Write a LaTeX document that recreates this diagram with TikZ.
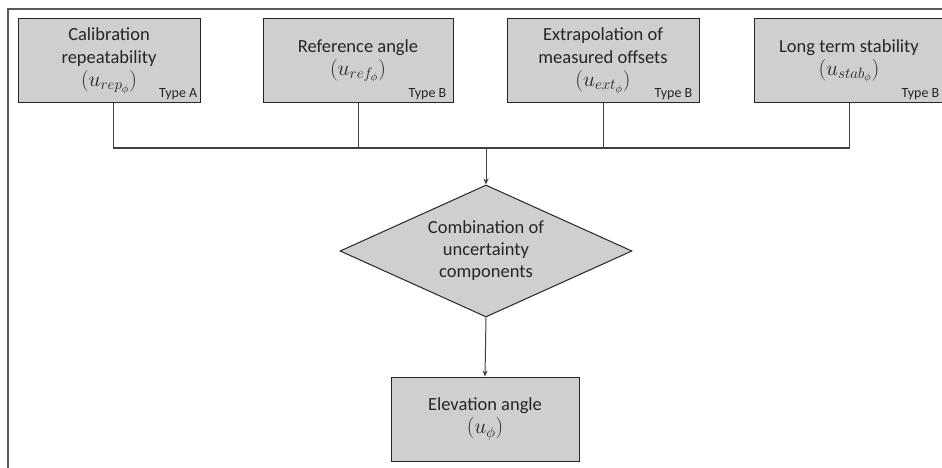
\RequirePackage{fix-cm}
\documentclass[tikz,border=0pt]{standalone}
\usepackage{fontspec}
\setmainfont{Carlito}
\usetikzlibrary{shapes.geometric,arrows.meta}
\definecolor{boxfill}{HTML}{D0CECE}
\definecolor{boxline}{HTML}{262626}
\definecolor{connline}{HTML}{404040}
\definecolor{framecol}{HTML}{595959}
\newcommand\umathlbl[1]{{\fontsize{21.5}{23}\selectfont$\boldsymbol{}#1$}}
\tikzset{
  stepbox/.style={draw=boxline, line width=1pt, fill=boxfill, minimum height=84pt,
    inner sep=0pt, align=center, text=black!85, font=\fontsize{18.5}{23}\selectfont},
  decide/.style={diamond, draw=boxline, line width=1pt, fill=boxfill, aspect=2.21,
    minimum width=292pt, minimum height=132pt, inner sep=0pt, align=center,
    text=black!85, font=\fontsize{18.5}{22}\selectfont},
  typelbl/.style={anchor=base east, inner sep=0pt, text=black!85, font=\fontsize{14}{16}\selectfont},
  conn/.style={draw=connline, line width=1pt},
  arr/.style={conn, -{Stealth[length=6pt,width=5pt]}},
  frameline/.style={draw=framecol, line width=1.3pt}
}
\renewcommand\umathlbl[1]{{\fontsize{21.5}{23}\selectfont$#1$}}
\begin{document}
\begin{tikzpicture}[x=1pt,y=-1pt]
\clip (0,0) rectangle (942,468);
\fill[white] (0,0) rectangle (942,468);
\draw[frameline] (8,480) -- (8,9) -- (960,9);

\node[stepbox, minimum width=182pt] (b1) at (109,61)
  {Calibration\\repeatability\\\umathlbl{(u_{rep_{\phi}})}};
\node[stepbox, minimum width=190pt] (b2) at (358,61)
  {Reference angle\\\umathlbl{(u_{ref_{\phi}})}};
\node[stepbox, minimum width=192pt] (b3) at (603,61)
  {Extrapolation of\\measured offsets\\\umathlbl{(u_{ext_{\phi}})}};
\node[stepbox, minimum width=190pt] (b4) at (849,61)
  {Long term stability\\\umathlbl{(u_{stab_{\phi}})}};

\node[typelbl] (t1) at ([xshift=-3pt,yshift=6pt]b1.south east) {Type A};
\node[typelbl] (t2) at ([xshift=-7pt,yshift=6pt]b2.south east) {Type B};
\node[typelbl] (t3) at ([xshift=-7pt,yshift=6pt]b3.south east) {Type B};
\node[typelbl] (t4) at ([xshift=-5pt,yshift=6pt]b4.south east) {Type B};

\node[decide] (d) at (486,251) {Combination of\\uncertainty\\components};
\node[stepbox, minimum width=188pt] (e) at (485,419) {Elevation angle\\\umathlbl{(u_{\phi})}};

\coordinate (j) at (486,148);
\coordinate (s1) at ([xshift=4pt]b1.south);
\draw[conn] (s1) -- (s1 |- j) -- (b4.south |- j) -- (b4.south);
\draw[conn] (b2.south) -- (b2.south |- j);
\draw[conn] (b3.south) -- (b3.south |- j);
\draw[arr] (j) -- (d.north);
\draw[arr] (d.south) -- (e.north);
\end{tikzpicture}
\end{document}
